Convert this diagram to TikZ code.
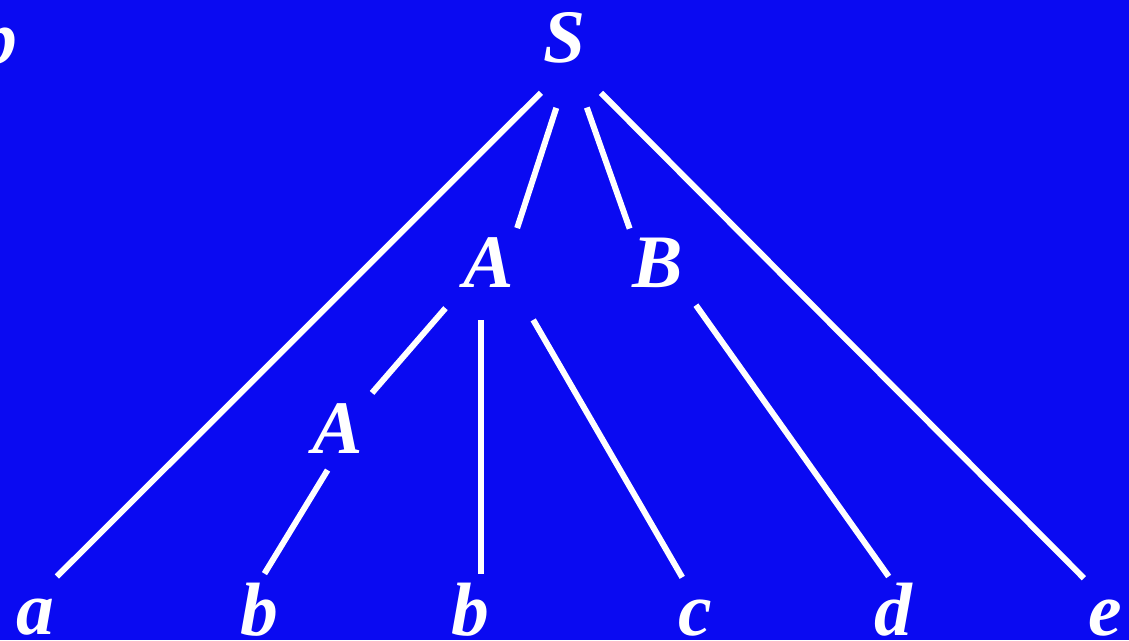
\documentclass[tikz,border=0pt]{standalone}
\usepackage{fontspec}
\setmainfont{Liberation Serif}
\usetikzlibrary{calc}
\definecolor{BgBlue}{HTML}{0A0AF2}
\definecolor{Ink}{HTML}{FFFFFF}
\tikzset{
  sym/.style={font=\fontsize{43}{50}\selectfont\bfseries\itshape,text=Ink,inner sep=0pt,outer sep=0pt,anchor=base},
  branch/.style={draw=Ink,line width=3.4pt},
}
\begin{document}
\begin{tikzpicture}[x=0.02cm,y=-0.02cm]

% Frame
\useasboundingbox (0,0) rectangle (1129,640);
\fill[BgBlue] (0,0) rectangle (1129,640);
\clip (0,0) rectangle (1129,640);

% Symbols
\node[sym] (bx)   at (-2,63)   {b};
\node[sym] (S)    at (565,62)  {S};
\node[sym] (A)    at (489,287) {A};
\node[sym] (B)    at (658,287) {B};
\node[sym] (Alow) at (338,453) {A};
\node[sym] (a)    at (35,634)  {a};
\node[sym] (b1)   at (259,635) {b};
\node[sym] (b2)   at (470,635) {b};
\node[sym] (c)    at (695,635) {c};
\node[sym] (d)    at (893,635) {d};
\node[sym] (e)    at (1105,635){e};

% Hub under S
\coordinate (hub) at ([xshift=0.12cm]S.south);

% Branches of S
\draw[branch,shorten <=0.85cm,shorten >=0.62cm] (hub) -- (a.north);
\draw[branch,shorten <=0.95cm,shorten >=0.19cm] (hub) -- (A.north east);
\draw[branch,shorten <=0.95cm,shorten >=0.19cm] (hub) -- (B.north west);
\draw[branch,shorten <=0.85cm,shorten >=0.60cm] (hub) -- (e.north);

% Branches of A
\draw[branch,shorten <=0.56cm,shorten >=0.27cm] (A.south west) -- (Alow.north east);
\draw[branch,shorten <=0.66cm,shorten >=0.18cm] ([xshift=-0.16cm]A.south) -- ([xshift=-0.16cm]A.south |- b2.north);
\draw[branch,shorten <=0.76cm,shorten >=0.51cm] (A.south east) -- (c.north);

% Branch of B
\draw[branch,shorten <=0.44cm,shorten >=0.15cm] (B.south east) -- (d.north);

% Branch of the lower A
\draw[branch,shorten <=0.40cm,shorten >=0.21cm] (Alow.south) -- (b1.north);

\end{tikzpicture}
\end{document}
